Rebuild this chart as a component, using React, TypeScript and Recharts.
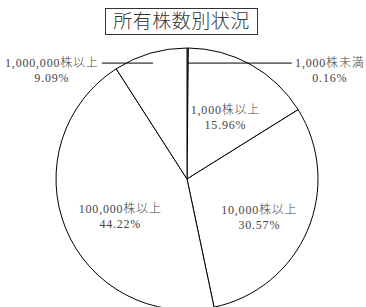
import { PieChart, Pie, Cell } from "recharts";

const TITLE = "所有株数別状況";
const CATEGORIES = ["1,000株未満", "1,000株以上", "10,000株以上", "100,000株以上", "1,000,000株以上"];
const SHARES = [0.16, 15.96, 30.57, 44.22, 9.09];

const data = CATEGORIES.map((name, i) => ({ name, value: SHARES[i] }));

const FONT = "'Liberation Serif', 'Noto Sans CJK JP', serif";
const LABEL_COLOR = "#444";
const RAD = Math.PI / 180;

function renderLabel(props: any) {
  const { cx, cy, midAngle, outerRadius, index, name, value } = props;
  const pct = `${Number(value).toFixed(2)}%`;
  const cos = Math.cos(-midAngle * RAD);
  const sin = Math.sin(-midAngle * RAD);
  const textProps = {
    fill: LABEL_COLOR,
    fontSize: 12,
    fontFamily: FONT,
    textAnchor: "middle" as const,
    dominantBaseline: "central" as const,
    letterSpacing: 0.8,
    fontWeight: 300,
  };
  if (value < 10) {
    // leader line: horizontal, starting on the slice's mid ray
    const ly = cy - outerRadius * 0.885;
    const lx = cx + ((ly - cy) / sin) * cos;
    const right = cos >= 0;
    const ex = right ? cx + outerRadius * 0.8 : cx - outerRadius * 0.65;
    const tx = right ? ex + 38 : ex - 50;
    return (
      <g key={`l-${index}`}>
        <line x1={lx} y1={ly} x2={ex} y2={ly} stroke="#000" strokeWidth={1} />
        <text x={tx} y={ly} {...textProps}>
          <tspan x={tx} dy={0}>{name}</tspan>
          <tspan x={tx} dy={15}>{pct}</tspan>
        </text>
      </g>
    );
  }
  const r = outerRadius * 0.6;
  const x = cx + r * cos + (cos < 0 ? 6 : 0);
  const y = cy + r * sin;
  return (
    <text key={`l-${index}`} x={x} y={y} {...textProps}>
      <tspan x={x} dy={0}>{name}</tspan>
      <tspan x={x} dy={15}>{pct}</tspan>
    </text>
  );
}

export default function App() {
  return (
    <div style={{ position: "absolute", left: 0, top: 0, width: 366, height: 307, background: "#fff", overflow: "hidden" }}>
      <div
        style={{
          position: "absolute",
          left: 105,
          top: 8,
          width: 153,
          height: 27,
          border: "1px solid #333",
          boxSizing: "border-box",
          fontFamily: FONT,
          fontSize: 19,
          fontWeight: 300,
          color: "#333",
          textAlign: "center",
          lineHeight: "25px",
          letterSpacing: 0.5,
        }}
      >
        {TITLE}
      </div>
      <PieChart width={366} height={307} margin={{ top: 0, right: 0, bottom: 0, left: 0 }}>
        <Pie
          data={data}
          dataKey="value"
          nameKey="name"
          cx={187}
          cy={179}
          outerRadius={131}
          startAngle={90}
          endAngle={-270}
          stroke="#000"
          strokeWidth={1}
          label={renderLabel}
          labelLine={false}
          isAnimationActive={false}
        >
          {data.map((d) => (
            <Cell key={d.name} fill="#fff" />
          ))}
        </Pie>
      </PieChart>
    </div>
  );
}
